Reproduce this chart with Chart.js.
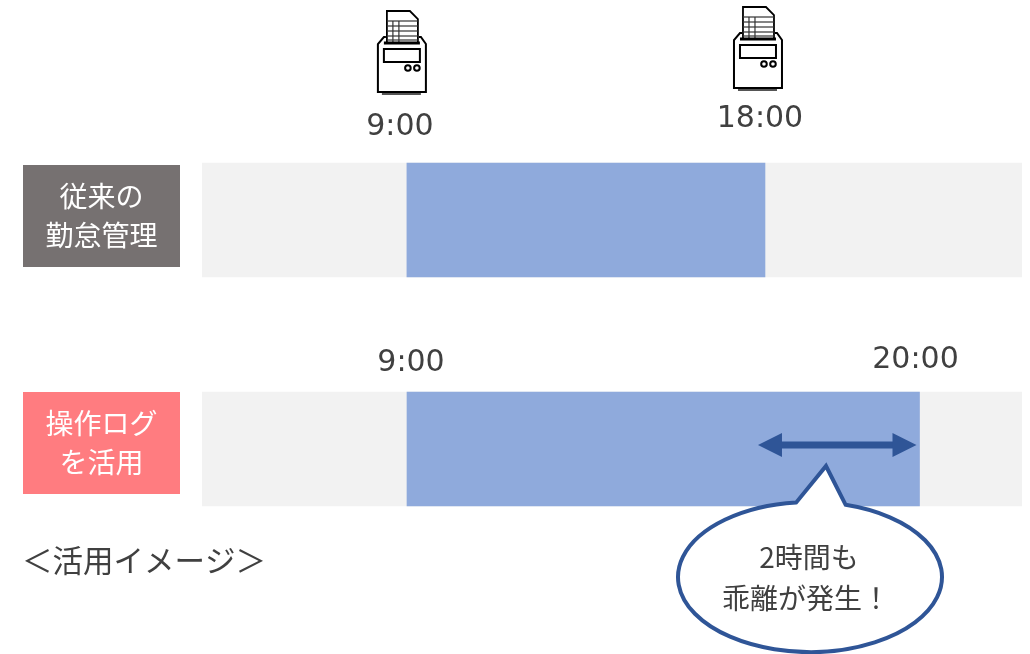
<!DOCTYPE html>
<html lang="ja">
<head>
<meta charset="utf-8">
<title>活用イメージ</title>
<script src="https://cdn.jsdelivr.net/npm/chart.js@4"></script>
<style>
  html, body { margin: 0; padding: 0; background: #fff; overflow: hidden; }
  canvas { display: block; }
</style>
</head>
<body>
<canvas id="attendance" width="1030" height="654"></canvas>
<script>
const categories = [['従来の', '勤怠管理'], ['操作ログ', 'を活用']];
const legacySpan = [9, 18];        // 9:00 - 18:00
const logSpan = [9, 20];           // 9:00 - 20:00
const legacyDay = [3.85, 24.46];   // grey strip, the two rows are not on the same time scale
const logDay = [4.6, 22.2];
const legacyTicks = ['9:00', '18:00'];
const logTicks = ['9:00', '20:00'];
const title = '＜活用イメージ＞';
const note = ['2時間も', '乖離が発生！'];

const JP = '"Noto Sans CJK JP", sans-serif';
const NUM = '"DejaVu Sans", sans-serif';
const BLUE = '#8FAADC';
const GREY = '#F2F2F2';
const NAVY = '#2F5597';
const TEXT = '#404040';
const boxColors = ['#767171', '#FF7C80'];

function drawText(ctx, str, x, y, font, color) {
  ctx.font = font;
  ctx.fillStyle = color;
  ctx.textAlign = 'center';
  ctx.textBaseline = 'middle';
  ctx.fillText(str, x, y);
}

// time recorder icon, (x, y) is the top left of the paper sheet
function drawRecorder(ctx, x, y) {
  ctx.save();
  ctx.translate(x, y);
  ctx.strokeStyle = '#000';
  ctx.lineWidth = 1.8;
  ctx.beginPath();
  ctx.moveTo(0, 32); ctx.lineTo(0, 0); ctx.lineTo(23, 0); ctx.lineTo(31, 8); ctx.lineTo(31, 32);
  ctx.stroke();
  ctx.lineWidth = 1.2;
  ctx.strokeStyle = '#333';
  [10, 15, 20, 25, 29].forEach(function (dy) {
    ctx.beginPath(); ctx.moveTo(0, dy); ctx.lineTo(31, dy); ctx.stroke();
  });
  [6, 12].forEach(function (dx) {
    ctx.beginPath(); ctx.moveTo(dx, 10); ctx.lineTo(dx, 32); ctx.stroke();
  });
  ctx.strokeStyle = '#000';
  ctx.lineWidth = 2;
  ctx.beginPath();
  ctx.moveTo(-1, 26); ctx.lineTo(-3, 26); ctx.lineTo(-9, 33); ctx.lineTo(-9, 81); ctx.lineTo(39, 81); ctx.lineTo(39, 33); ctx.lineTo(34, 26); ctx.lineTo(32, 26);
  ctx.stroke();
  ctx.lineWidth = 3;
  ctx.beginPath(); ctx.moveTo(-3, 32); ctx.lineTo(33, 32); ctx.stroke();
  ctx.lineWidth = 2;
  ctx.strokeRect(-3, 38, 36, 13);
  ctx.beginPath(); ctx.arc(21, 57, 2.8, 0, Math.PI * 2); ctx.stroke();
  ctx.beginPath(); ctx.arc(30, 57, 2.8, 0, Math.PI * 2); ctx.stroke();
  ctx.fillStyle = '#555';
  ctx.fillRect(-5, 82, 39, 2);
  ctx.restore();
}

const annotations = {
  id: 'annotations',
  afterDatasetsDraw(chart) {
    const ctx = chart.ctx;
    const x1 = chart.scales.x;
    const x2 = chart.scales.x2;
    const y = chart.scales.y;

    // row labels
    categories.forEach(function (lines, i) {
      const cy = y.getPixelForValue(i) - (i === 0 ? 4 : 6);
      ctx.fillStyle = boxColors[i];
      ctx.fillRect(23, cy - 51, 157, 102);
      drawText(ctx, lines[0], 101.5, cy - 20, '28px ' + JP, '#fff');
      drawText(ctx, lines[1], 101.5, cy + 19, '28px ' + JP, '#fff');
    });

    // time labels and recorders
    const t9 = x1.getPixelForValue(legacySpan[0]);
    const t18 = x1.getPixelForValue(legacySpan[1]);
    drawRecorder(ctx, t9 - 20, 11);
    drawRecorder(ctx, t18 - 22, 7);
    const numFont = '30px ' + NUM;
    drawText(ctx, legacyTicks[0], t9 - 7, 127, numFont, TEXT);
    drawText(ctx, legacyTicks[1], t18 - 5, 119, numFont, TEXT);
    drawText(ctx, logTicks[0], x2.getPixelForValue(logSpan[0]) + 4, 363, numFont, TEXT);
    drawText(ctx, logTicks[1], x2.getPixelForValue(logSpan[1]) - 4, 360, numFont, TEXT);

    // double arrow over the 18:00 - 20:00 gap
    const ax = t18 - 7;
    const bx = x2.getPixelForValue(logSpan[1]) - 3;
    const ay = 445;
    ctx.fillStyle = NAVY;
    ctx.fillRect(ax + 20, ay - 3.5, bx - ax - 40, 7);
    ctx.beginPath();
    ctx.moveTo(ax, ay); ctx.lineTo(ax + 24, ay - 12); ctx.lineTo(ax + 24, ay + 12); ctx.closePath();
    ctx.moveTo(bx, ay); ctx.lineTo(bx - 24, ay - 12); ctx.lineTo(bx - 24, ay + 12); ctx.closePath();
    ctx.fill();

    // speech bubble
    const cx = 810, cyB = 577, rx = 132, ry = 75;
    const a0 = Math.atan2((504 - cyB) / ry, (846 - cx) / rx);
    const a1 = Math.atan2((501 - cyB) / ry, (796 - cx) / rx);
    ctx.beginPath();
    ctx.ellipse(cx, cyB, rx, ry, 0, a0, a1 + Math.PI * 2);
    ctx.lineTo(826, 466);
    ctx.closePath();
    ctx.fillStyle = '#fff';
    ctx.fill();
    ctx.strokeStyle = NAVY;
    ctx.lineWidth = 4;
    ctx.lineJoin = 'miter';
    ctx.stroke();
    drawText(ctx, note[0], 809, 557, '28px ' + JP, TEXT);
    drawText(ctx, note[1], 806, 598, '28px ' + JP, TEXT);

    drawText(ctx, title, 144, 560, '30.5px ' + JP, TEXT);
  }
};

new Chart(document.getElementById('attendance').getContext('2d'), {
  type: 'bar',
  data: {
    labels: categories,
    datasets: [
      { data: [legacySpan, null], xAxisID: 'x', backgroundColor: BLUE, order: 1 },
      { data: [null, logSpan], xAxisID: 'x2', backgroundColor: BLUE, order: 1 },
      { data: [legacyDay, null], xAxisID: 'x', backgroundColor: GREY, order: 2 },
      { data: [null, logDay], xAxisID: 'x2', backgroundColor: GREY, order: 2 }
    ]
  },
  options: {
    indexAxis: 'y',
    responsive: false,
    animation: false,
    layout: { padding: { left: 202, right: 8, top: 105.5, bottom: 90.5 } },
    datasets: { bar: { grouped: false, barThickness: 114, borderWidth: 0 } },
    plugins: { legend: { display: false }, tooltip: { enabled: false } },
    scales: {
      x: { type: 'linear', display: false, min: legacyDay[0], max: legacyDay[1] },
      x2: { type: 'linear', display: false, min: logDay[0], max: logDay[1] },
      y: { type: 'category', display: false, offset: true }
    }
  },
  plugins: [annotations]
});
</script>
</body>
</html>
